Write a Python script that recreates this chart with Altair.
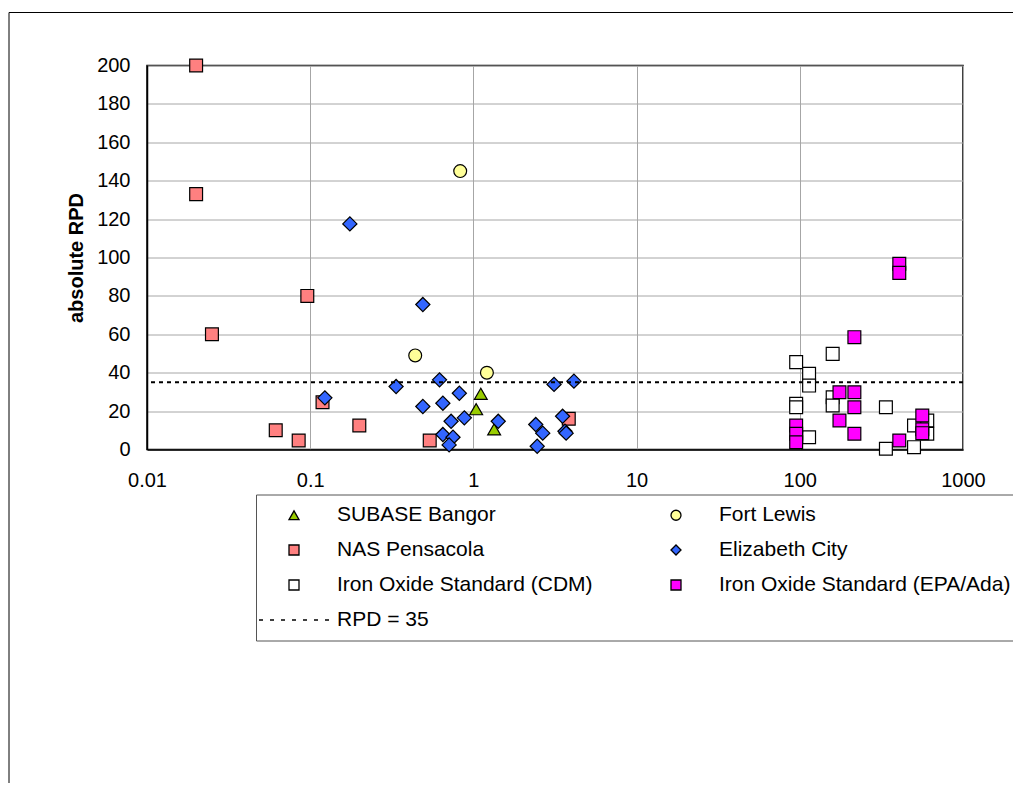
import altair as alt
import pandas as pd

# ---------------- data ----------------
series_order = [
    "SUBASE Bangor", "Fort Lewis",
    "NAS Pensacola", "Elizabeth City",
    "Iron Oxide Standard (CDM)", "Iron Oxide Standard (EPA/Ada)",
    "RPD = 35",
]
fill_colors = ["#99CC00", "#FFFF99", "#FF8080", "#3366FF", "#FFFFFF", "#FF00FF", "transparent"]
stroke_colors = ["black"] * 7
dotted_path = "M-7,0H-6.2M-4.8,0H-4M-2.6,0H-1.8M-0.4,0H0.4M1.8,0H2.6M4,0H4.8M6.2,0H7"
shape_range = ["triangle-up", "circle", "square", "diamond", "square", "square", dotted_path]

bangor_x = [1.11, 1.04, 1.34]
bangor_y = [29, 21, 10.5]

fortlewis_x = [0.83, 0.44, 1.21]
fortlewis_y = [145, 49, 40]

pensacola_x = [0.02, 0.02, 0.025, 0.096, 0.119, 0.0615, 0.085, 0.2, 0.54, 3.84]
pensacola_y = [200, 133, 60, 80, 24.6, 10, 4.7, 12.5, 4.7, 16]

elizabeth_x = [0.175, 0.49, 0.123, 0.336, 0.62, 0.82, 0.49, 0.65, 0.73, 0.88, 0.65,
               0.75, 0.71, 1.42, 2.41, 2.66, 2.46, 3.12, 4.13, 3.52, 3.64, 3.7]
elizabeth_y = [117.5, 75.5, 26.9, 32.8, 36.3, 29.3, 22.4, 24.1, 14.7, 16.5, 7.8,
               6.4, 2.4, 14.7, 13, 8.5, 1.7, 33.9, 35.6, 17.3, 9.5, 8.5]

cdm_x = [95, 114, 114, 159, 95, 95, 159, 159, 114, 337, 337, 501, 501, 604, 604]
cdm_y = [45.5, 39.4, 33.3, 49.8, 23.8, 22, 27.2, 22.9, 6.4, 22, 0.4, 1.2, 12.5, 15.1, 8.2]

epa_x = [407, 407, 216, 175, 216, 216, 175, 216, 95, 95, 95, 407, 563, 563, 563]
epa_y = [96.7, 92, 58.5, 29.8, 29.8, 22, 15.1, 8.2, 12.5, 8.2, 3.8, 4.7, 17.7, 10.5, 8.5]

threshold = [35]

x_ticks = [0.01, 0.1, 1, 10, 100, 1000]
y_ticks = [0, 20, 40, 60, 80, 100, 120, 140, 160, 180, 200]

# drawing order (later = on top)
draw_main = [
    ("NAS Pensacola", pensacola_x, pensacola_y),
    ("Iron Oxide Standard (CDM)", cdm_x, cdm_y),
    ("SUBASE Bangor", bangor_x, bangor_y),
    ("Fort Lewis", fortlewis_x, fortlewis_y),
    ("Iron Oxide Standard (EPA/Ada)", epa_x, epa_y),
]
df_main = pd.concat(
    [pd.DataFrame({"series": n, "conc": xs, "rpd": ys}) for n, xs, ys in draw_main],
    ignore_index=True,
)
df_diam = pd.DataFrame({"series": "Elizabeth City", "conc": elizabeth_x, "rpd": elizabeth_y})

FONT = "Liberation Sans"

x_scale = alt.Scale(type="log", domain=[0.01, 1000])
y_scale = alt.Scale(domain=[0, 200], nice=False)

legend = alt.Legend(
    title=None, orient="none", legendX=109, legendY=429,
    direction="horizontal", columns=2, columnPadding=55, rowPadding=13,
    padding=10, strokeColor="#555555", fillColor="white",
    labelFont=FONT, labelFontSize=21, labelColor="black", labelLimit=400,
    symbolSize=100, symbolStrokeWidth=1.3,
    symbolOffset=17.5, labelOffset=32.5,
)

x_axis = alt.Axis(values=x_ticks, format="~g", title=None, labelFont=FONT,
                  labelFontSize=20, labelColor="black", ticks=False,
                  labelPadding=21, labelFlush=False, labelOverlap=False,
                  grid=True, gridColor="#A6A6A6", gridWidth=1,
                  domainColor="black", domainWidth=1.5)
y_axis = alt.Axis(values=y_ticks, title="absolute RPD", labelFont=FONT,
                  labelFontSize=20, labelColor="black", ticks=False,
                  labelPadding=17, labelOverlap=False, grid=True,
                  gridColor="#A6A6A6", gridWidth=1,
                  domainColor="black", domainWidth=1.5, titleFont=FONT,
                  titleFontSize=20, titleFontWeight="bold", titleColor="black",
                  titlePadding=10)

enc = dict(
    x=alt.X("conc:Q", scale=x_scale, axis=x_axis),
    y=alt.Y("rpd:Q", scale=y_scale, axis=y_axis),
    fill=alt.Fill("series:N", scale=alt.Scale(domain=series_order, range=fill_colors), legend=legend),
    shape=alt.Shape("series:N", scale=alt.Scale(domain=series_order, range=shape_range), legend=legend),
    stroke=alt.Stroke("series:N", scale=alt.Scale(domain=series_order, range=stroke_colors), legend=legend),
)

points = alt.Chart(df_main).mark_point(
    filled=True, strokeWidth=1.2, opacity=1, size=165
).encode(**enc)

diamonds = alt.Chart(df_diam).mark_point(
    filled=True, strokeWidth=1.2, opacity=1, size=200
).encode(**enc)

rule = alt.Chart(pd.DataFrame({"rpd": threshold})).mark_rule(
    color="black", strokeWidth=2, strokeDash=[4, 4]
).encode(y=alt.Y("rpd:Q", scale=y_scale, axis=y_axis))

one = pd.DataFrame({"k": [0]})
frame_top = alt.Chart(one).mark_rule(color="black", strokeWidth=1).encode(
    x=alt.value(-138), x2=alt.value(900), y=alt.value(-53)
)
frame_left = alt.Chart(one).mark_rule(color="black", strokeWidth=1).encode(
    x=alt.value(-138), y=alt.value(-53), y2=alt.value(800)
)

chart = alt.layer(points, diamonds, rule, frame_top, frame_left).properties(
    width=816, height=384,
    autosize=alt.AutoSizeParams(type="none"),
    padding={"left": 139, "top": 57.5, "right": 50, "bottom": 333.5},
    background="white",
).configure_view(stroke="black", strokeWidth=1.5)

chart.save("out.html", embed_options={"renderer": "svg", "actions": False})
